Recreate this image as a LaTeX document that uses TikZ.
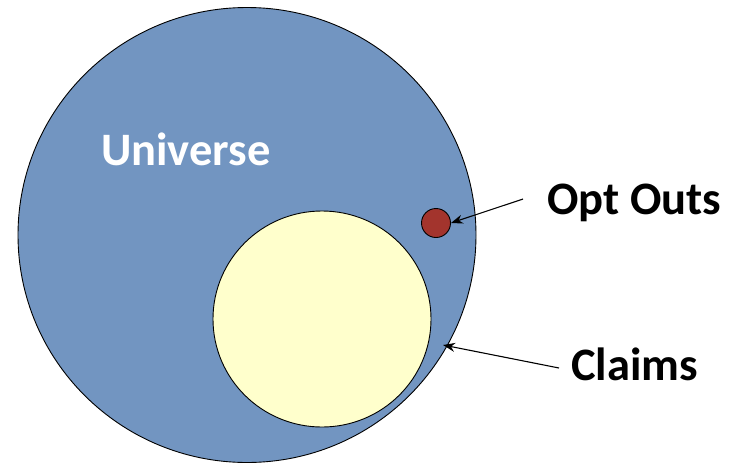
\documentclass[tikz,border=0pt]{standalone}
\usepackage{fontspec}
\setmainfont{Carlito}
\usetikzlibrary{arrows.meta,positioning,shapes.geometric}
\definecolor{univblue}{RGB}{114,149,193}
\definecolor{claimyellow}{RGB}{255,255,204}
\definecolor{optred}{RGB}{163,52,45}

\begin{document}
\begin{tikzpicture}[x=1pt, y=-1pt,
    every node/.style={font=\bfseries\fontsize{46.5}{54}\selectfont},
    region/.style={draw, ellipse, inner sep=0pt, line width=0.9pt},
    tag/.style={anchor=base west, inner sep=0pt},
    pointer/.style={-{Stealth[length=12pt,width=9pt]}, line width=1.1pt}]
    \useasboundingbox (0,0) rectangle (744,464);
    \node[region, fill=univblue, minimum width=458pt, minimum height=455pt] (universe) at (247,235) {};
    \node[region, fill=claimyellow, minimum width=218pt, minimum height=216pt] (claims) at (322,319) {};
    \node[region, fill=optred, minimum size=29pt] (optouts) at (436,223) {};
    \node[tag, text=white] (univlabel) at (101,165) {Universe};
    \node[tag] (optlabel) at (547,214) {Opt Outs};
    \node[tag] (claimlabel) at (571,380) {Claims};
    \coordinate (opttail) at (523,199);
    \coordinate (claimtail) at (559,368);
    \coordinate (claimtip) at (443,345);
    \draw[pointer] (opttail) -- (optouts.east);
    \draw[pointer] (claimtail) -- (claimtip);
\end{tikzpicture}
\end{document}
